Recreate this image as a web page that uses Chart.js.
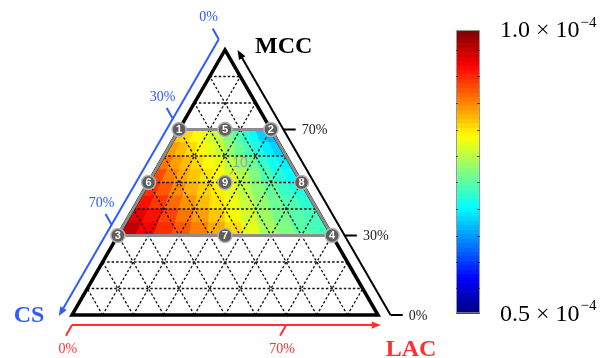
<!DOCTYPE html>
<html lang="en">
<head>
<meta charset="UTF-8">
<title>Ternary response map</title>
<script src="https://cdn.jsdelivr.net/npm/chart.js"></script>
<style>
    html, body { margin: 0; padding: 0; background: #fff; }
    #wrap { width: 607px; height: 358px; }
</style>
</head>
<body>
<div id="wrap"><canvas id="ternary" width="607" height="358"></canvas></div>
<script>
// ---- data ----
var gridSteps = [0.1, 0.2, 0.3, 0.4, 0.5, 0.6, 0.7, 0.8, 0.9];

var csTicks = [0, 0.3, 0.7];
var csTickLabels = ['0%', '30%', '70%'];
var mccTicks = [0.7, 0.3, 0];
var mccTickLabels = ['70%', '30%', '0%'];
var lacTicks = [0, 0.7];
var lacTickLabels = ['0%', '70%'];

// design points (MCC and LAC fractions, CS is the rest)
var pointLabels = ['1', '2', '3', '4', '5', '6', '7', '8', '9'];
var pointMCC = [0.7, 0.7, 0.3, 0.3, 0.7, 0.5, 0.3, 0.5, 0.5];
var pointLAC = [0, 0.3, 0, 0.7, 0.15, 0, 0.35, 0.5, 0.25];

// response map: bands of constant MCC, each row runs from the CS side to the LAC side (x 1e-4)
var bandEdges = [0.70, 0.65, 0.60, 0.55, 0.50, 0.45, 0.40, 0.35, 0.30];
var mapRows = [
    [0.84, 0.83, 0.815, 0.805, 0.79, 0.775, 0.75, 0.73, 0.71, 0.69, 0.665, 0.65],
    [0.86, 0.845, 0.83, 0.815, 0.80, 0.785, 0.76, 0.74, 0.72, 0.70, 0.68, 0.665],
    [0.88, 0.86, 0.845, 0.83, 0.815, 0.80, 0.78, 0.76, 0.74, 0.715, 0.695, 0.68],
    [0.90, 0.875, 0.855, 0.84, 0.825, 0.81, 0.795, 0.775, 0.75, 0.725, 0.705, 0.69],
    [0.915, 0.895, 0.87, 0.85, 0.835, 0.82, 0.80, 0.78, 0.755, 0.735, 0.715, 0.70],
    [0.93, 0.91, 0.885, 0.865, 0.845, 0.825, 0.805, 0.785, 0.76, 0.74, 0.725, 0.71],
    [0.95, 0.93, 0.905, 0.88, 0.86, 0.84, 0.815, 0.79, 0.765, 0.745, 0.73, 0.72],
    [0.97, 0.94, 0.915, 0.895, 0.875, 0.855, 0.83, 0.80, 0.77, 0.75, 0.73, 0.72]
];

var cbarMin = 0.5;
var cbarMax = 1.0;
var cbarMarks = [0.965, 0.918, 0.871, 0.824, 0.777, 0.731, 0.684, 0.637, 0.590, 0.544];

// ---- helpers ----
var SQ = Math.sqrt(3) / 2;
function tern(mcc, lac) { return { x: lac + mcc / 2, y: mcc * SQ }; }

function jet(v) {
    var t = (v - cbarMin) / (cbarMax - cbarMin);
    t = Math.max(0, Math.min(1, t));
    function ch(c) { return Math.round(Math.min(Math.max(1.5 - Math.abs(4 * t - c), 0), 1) * 255); }
    return 'rgb(' + ch(3) + ',' + ch(2) + ',' + ch(1) + ')';
}

function seg(a, b, color, width, dash, order) {
    return {
        type: 'line', data: [a, b], borderColor: color, borderWidth: width,
        borderDash: dash || [], pointRadius: 0, fill: false, order: order,
        borderCapStyle: 'butt'
    };
}

var OFF = 0.041;   // axis offset from the edges
var TL = 0.04;     // tick length
var BLUE = '#2f5bff', RED = '#ff3030';

var datasets = [];

// design points on top
datasets.push({
    type: 'scatter',
    data: pointMCC.map(function (m, i) { return tern(m, pointLAC[i]); }),
    pointRadius: 7, pointBackgroundColor: '#5e5e5e', pointBorderColor: '#b4b4b4',
    pointBorderWidth: 1.5, order: 0
});

// trapezoid border of the design space
var trap = [tern(0.7, 0), tern(0.7, 0.3), tern(0.3, 0.7), tern(0.3, 0), tern(0.7, 0)];
datasets.push({ type: 'line', data: trap, borderColor: '#8d8d8d', borderWidth: 3,
    pointRadius: 0, fill: false, order: 1, borderJoinStyle: 'miter' });

// triangle outline
var tri = [tern(1, 0), tern(0, 1), tern(0, 0), tern(1, 0), tern(0, 1)];
datasets.push({ type: 'line', data: tri, borderColor: '#000', borderWidth: 3.5,
    pointRadius: 0, fill: false, order: 2, borderJoinStyle: 'miter' });

// dashed 10% grid
gridSteps.forEach(function (s) {
    datasets.push(seg(tern(s, 0), tern(s, 1 - s), '#111', 1.3, [2.5, 2], 4));
    datasets.push(seg(tern(0, s), tern(1 - s, s), '#111', 1.3, [2.5, 2], 4));
    datasets.push(seg(tern(0, 1 - s), tern(1 - s, 0), '#111', 1.3, [2.5, 2], 4));
});

// CS axis (blue), along the left edge
function csPt(c, d) { var p = tern(1 - c, 0); return { x: p.x - 0.5 * d, y: p.y + SQ * d }; }
datasets.push(seg(csPt(0, OFF), csPt(1.025, OFF), BLUE, 2, null, 3));
csTicks.forEach(function (c) { datasets.push(seg(csPt(c, OFF), csPt(c, OFF + TL), BLUE, 2, null, 3)); });

// MCC axis (black), along the right edge
function mccPt(m, d) { var p = tern(m, 1 - m); return { x: p.x + d, y: p.y }; }
datasets.push(seg(mccPt(0, OFF), mccPt(0.985, OFF), '#000', 2, null, 3));
mccTicks.forEach(function (m) { datasets.push(seg(mccPt(m, OFF), mccPt(m, OFF + TL), '#000', 2, null, 3)); });

// LAC axis (red), below the base
function lacPt(l, d) { return { x: l - 0.5 * d, y: -0.033 - SQ * d }; }
datasets.push(seg(lacPt(0, 0), lacPt(0.99, 0), RED, 2, null, 3));
lacTicks.forEach(function (l) { datasets.push(seg(lacPt(l, 0), lacPt(l, TL), RED, 2, null, 3)); });

// ---- plugins ----
function arrowHead(ctx, tip, from, color) {
    var a = Math.atan2(tip.y - from.y, tip.x - from.x);
    ctx.save();
    ctx.fillStyle = color;
    ctx.beginPath();
    ctx.moveTo(tip.x, tip.y);
    ctx.lineTo(tip.x - 10 * Math.cos(a - 0.38), tip.y - 10 * Math.sin(a - 0.38));
    ctx.lineTo(tip.x - 10 * Math.cos(a + 0.38), tip.y - 10 * Math.sin(a + 0.38));
    ctx.closePath();
    ctx.fill();
    ctx.restore();
}

var mapPlugin = {
    id: 'mapPlugin',
    beforeDatasetsDraw: function (chart) {
        var ctx = chart.ctx, sx = chart.scales.x, sy = chart.scales.y, cb = chart.scales.cb;
        function px(p) { return [sx.getPixelForValue(p.x), sy.getPixelForValue(p.y)]; }
        ctx.save();
        // heat map cells
        for (var r = 0; r < mapRows.length; r++) {
            var mt = bandEdges[r], mb = bandEdges[r + 1];
            var tl = mt / 2, tr = 1 - mt / 2, bl = mb / 2, br = 1 - mb / 2;
            var n = mapRows[r].length;
            for (var i = 0; i < n; i++) {
                var u0 = i / n, u1 = (i + 1) / n;
                var pts = [
                    px({ x: tl + u0 * (tr - tl), y: mt * SQ }),
                    px({ x: tl + u1 * (tr - tl), y: mt * SQ }),
                    px({ x: bl + u1 * (br - bl), y: mb * SQ }),
                    px({ x: bl + u0 * (br - bl), y: mb * SQ })
                ];
                ctx.beginPath();
                ctx.moveTo(pts[0][0], pts[0][1]);
                for (var k = 1; k < 4; k++) ctx.lineTo(pts[k][0], pts[k][1]);
                ctx.closePath();
                ctx.fillStyle = jet(mapRows[r][i]);
                ctx.strokeStyle = ctx.fillStyle;
                ctx.lineWidth = 0.8;
                ctx.fill();
                ctx.stroke();
            }
        }
        // colour bar
        var x0 = sx.getPixelForValue(1.2549), x1 = sx.getPixelForValue(1.3333);
        var steps = 64;
        for (var s = 0; s < steps; s++) {
            var va = cbarMin + (cbarMax - cbarMin) * s / steps;
            var vb = cbarMin + (cbarMax - cbarMin) * (s + 1) / steps;
            var ya = cb.getPixelForValue(va), yb = cb.getPixelForValue(vb);
            ctx.fillStyle = jet((va + vb) / 2);
            ctx.fillRect(x0, yb, x1 - x0, ya - yb + 0.6);
        }
        ctx.strokeStyle = '#9a9a9a';
        ctx.lineWidth = 1;
        var yTop = cb.getPixelForValue(cbarMax), yBot = cb.getPixelForValue(cbarMin);
        ctx.strokeRect(x0 + 0.5, yTop + 0.5, x1 - x0 - 1, yBot - yTop - 1);
        ctx.strokeStyle = 'rgba(0,0,0,0.55)';
        cbarMarks.forEach(function (v) {
            var y = Math.round(cb.getPixelForValue(v)) + 0.5;
            ctx.beginPath(); ctx.moveTo(x1 - 3, y); ctx.lineTo(x1, y); ctx.stroke();
            ctx.beginPath(); ctx.moveTo(x0, y); ctx.lineTo(x0 + 2, y); ctx.stroke();
        });
        ctx.restore();
    },
    afterDatasetsDraw: function (chart) {
        var ctx = chart.ctx, sx = chart.scales.x, sy = chart.scales.y, cb = chart.scales.cb;
        function P(p) { return { x: sx.getPixelForValue(p.x), y: sy.getPixelForValue(p.y) }; }
        ctx.save();

        // arrow heads
        arrowHead(ctx, P(csPt(1.045, OFF)), P(csPt(0.9, OFF)), BLUE);
        arrowHead(ctx, P(mccPt(1.0, OFF)), P(mccPt(0.9, OFF)), '#000');
        arrowHead(ctx, P(lacPt(1.01, 0)), P(lacPt(0.9, 0)), RED);

        // design point numbers
        var meta = chart.getDatasetMeta(0);
        ctx.font = 'bold 11px "Liberation Sans", Arial, sans-serif';
        ctx.fillStyle = '#fff';
        ctx.textAlign = 'center';
        ctx.textBaseline = 'middle';
        meta.data.forEach(function (el, i) { ctx.fillText(pointLabels[i], el.x, el.y + 0.5); });

        // faint label of the centre replicate
        var c9 = meta.data[8];
        ctx.strokeStyle = '#a0a0a0';
        ctx.lineWidth = 1.2;
        ctx.beginPath(); ctx.moveTo(c9.x + 5, c9.y - 8); ctx.lineTo(c9.x + 9, c9.y - 13); ctx.stroke();
        ctx.fillStyle = '#a0a0a0';
        ctx.font = '14px "Liberation Sans", Arial, sans-serif';
        ctx.fillText('10', c9.x + 15, c9.y - 19);

        // tick labels
        ctx.font = '14px "Liberation Serif", "Times New Roman", serif';
        ctx.fillStyle = BLUE;
        csTicks.forEach(function (c, i) {
            var e = P(csPt(c, OFF + TL));
            ctx.fillText(csTickLabels[i], e.x - 4, e.y - 11);
        });
        ctx.fillStyle = '#222';
        ctx.textAlign = 'left';
        mccTicks.forEach(function (m, i) {
            var e = P(mccPt(m, OFF + TL));
            ctx.fillText(mccTickLabels[i], e.x + 6, e.y + 1);
        });
        ctx.fillStyle = RED;
        ctx.textAlign = 'center';
        lacTicks.forEach(function (l, i) {
            var e = P(lacPt(l, TL));
            ctx.fillText(lacTickLabels[i], e.x + 2, e.y + 14);
        });

        // axis titles
        ctx.font = 'bold 24px "Liberation Serif", "Times New Roman", serif';
        ctx.textAlign = 'left';
        ctx.fillStyle = '#000';
        var apex = P(tern(1, 0));
        ctx.fillText('MCC', apex.x + 30, apex.y - 3);
        ctx.fillStyle = BLUE;
        ctx.textAlign = 'center';
        var vcs = P(tern(0, 0));
        ctx.fillText('CS', vcs.x - 43, vcs.y + 1);
        ctx.fillStyle = RED;
        var vlac = P(tern(0, 1));
        ctx.fillText('LAC', vlac.x + 33, vlac.y + 35);

        // colour bar labels
        var lx = sx.getPixelForValue(1.3333) + 20;
        [cbarMax, cbarMin].forEach(function (v) {
            var y = cb.getPixelForValue(v);
            var main = v.toFixed(1) + ' \u00d7 10';
            ctx.fillStyle = '#000';
            ctx.textAlign = 'left';
            ctx.font = '24px "Liberation Serif", "Times New Roman", serif';
            ctx.fillText(main, lx, y + 1);
            var w = ctx.measureText(main).width;
            ctx.font = '15px "Liberation Serif", "Times New Roman", serif';
            ctx.fillText('\u22124', lx + w + 1, y - 7);
        });
        ctx.restore();
    }
};

new Chart(document.getElementById('ternary'), {
    type: 'scatter',
    data: { datasets: datasets },
    options: {
        responsive: false,
        animation: false,
        events: [],
        layout: { padding: 0, autoPadding: false },
        plugins: { legend: { display: false }, tooltip: { enabled: false } },
        scales: {
            x: { type: 'linear', display: false, min: -0.2353, max: 1.7484 },
            y: { type: 'linear', display: false, min: -0.1405, max: 1.0294 },
            cb: { type: 'linear', axis: 'y', display: false, min: 0.4211, max: 1.0529 }
        }
    },
    plugins: [mapPlugin]
});
</script>
</body>
</html>
